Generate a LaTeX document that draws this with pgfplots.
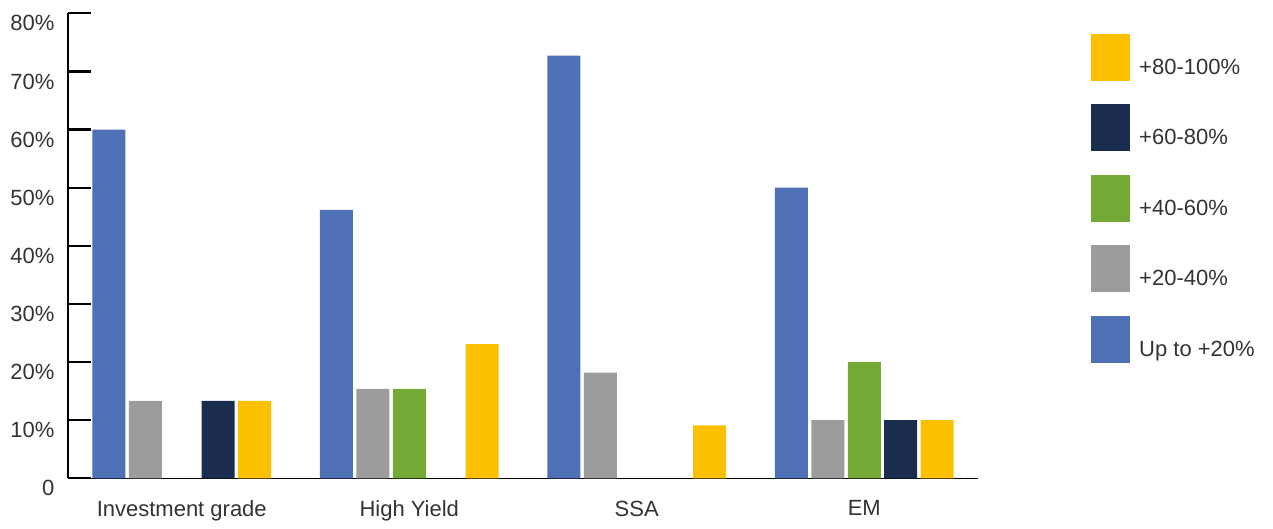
\documentclass[border=0pt]{standalone}
\usepackage{pgfplots}
\pgfplotsset{compat=1.18}
\usepackage{fontspec}
\setmainfont{Liberation Sans}
\definecolor{cblue}{HTML}{4E71B6}
\definecolor{cgrey}{HTML}{9C9C9C}
\definecolor{cgreen}{HTML}{74A935}
\definecolor{cnavy}{HTML}{1B2D4F}
\definecolor{cyellow}{HTML}{FDC000}
\definecolor{ctext}{HTML}{333333}
\begin{document}
\begin{tikzpicture}
\useasboundingbox (0pt,0pt) rectangle (1273pt,528pt);
\begin{axis}[
  at={(68pt,49.7pt)}, anchor=south west,
  scale only axis, width=910pt, height=465pt,
  xmin=-0.5, xmax=3.5, ymin=0, ymax=80,
  ybar=3.4pt, bar width=33pt,
  axis lines=left, axis line style={-, line width=1.5pt, black},
  tick align=inside,
  xtick={0,1,2,3},
  xticklabels={Investment grade, High Yield, SSA, EM},
  x tick style={draw=none},
  extra x ticks={0.5,1.5,2.5,3.5},
  extra x tick labels={},
  extra x tick style={tick style={draw=black, line width=2pt}, major tick length=12pt},
  ytick={0,10,...,80},
  yticklabels={0,10\%,20\%,30\%,40\%,50\%,60\%,70\%,80\%},
  y tick style={line width=2.2pt, black},
  major tick length=23pt,
  tick label style={font=\fontsize{22}{26}\selectfont, text=ctext},
  yticklabel style={xshift=-10pt, yshift=-10pt},
  xticklabel style={yshift=-19pt},
  legend style={at={(1020pt,447pt)}, anchor=north west, draw=none, fill=none,
    font=\fontsize{22}{26}\selectfont, text=ctext, row sep=23.5pt,
    /tikz/every odd column/.append style={column sep=7pt}},
  legend cell align=left,
  reverse legend,
  legend image code/.code={\fill[#1] (0pt,-13pt) rectangle (39pt,34pt);},
]
\addplot[fill=cblue, draw=none] coordinates {(0,60) (1,46.2) (2,72.7) (3,50)};
\addplot[fill=cgrey, draw=none] coordinates {(0,13.3) (1,15.4) (2,18.2) (3,10)};
\addplot[fill=cgreen, draw=none] coordinates {(1,15.4) (3,20)};
\addplot[fill=cnavy, draw=none] coordinates {(0,13.3) (3,10)};
\addplot[fill=cyellow, draw=none] coordinates {(0,13.3) (1,23.1) (2,9.1) (3,10)};
\legend{Up to +20\%, +20-40\%, +40-60\%, +60-80\%, +80-100\%}
\end{axis}
\end{tikzpicture}
\end{document}
